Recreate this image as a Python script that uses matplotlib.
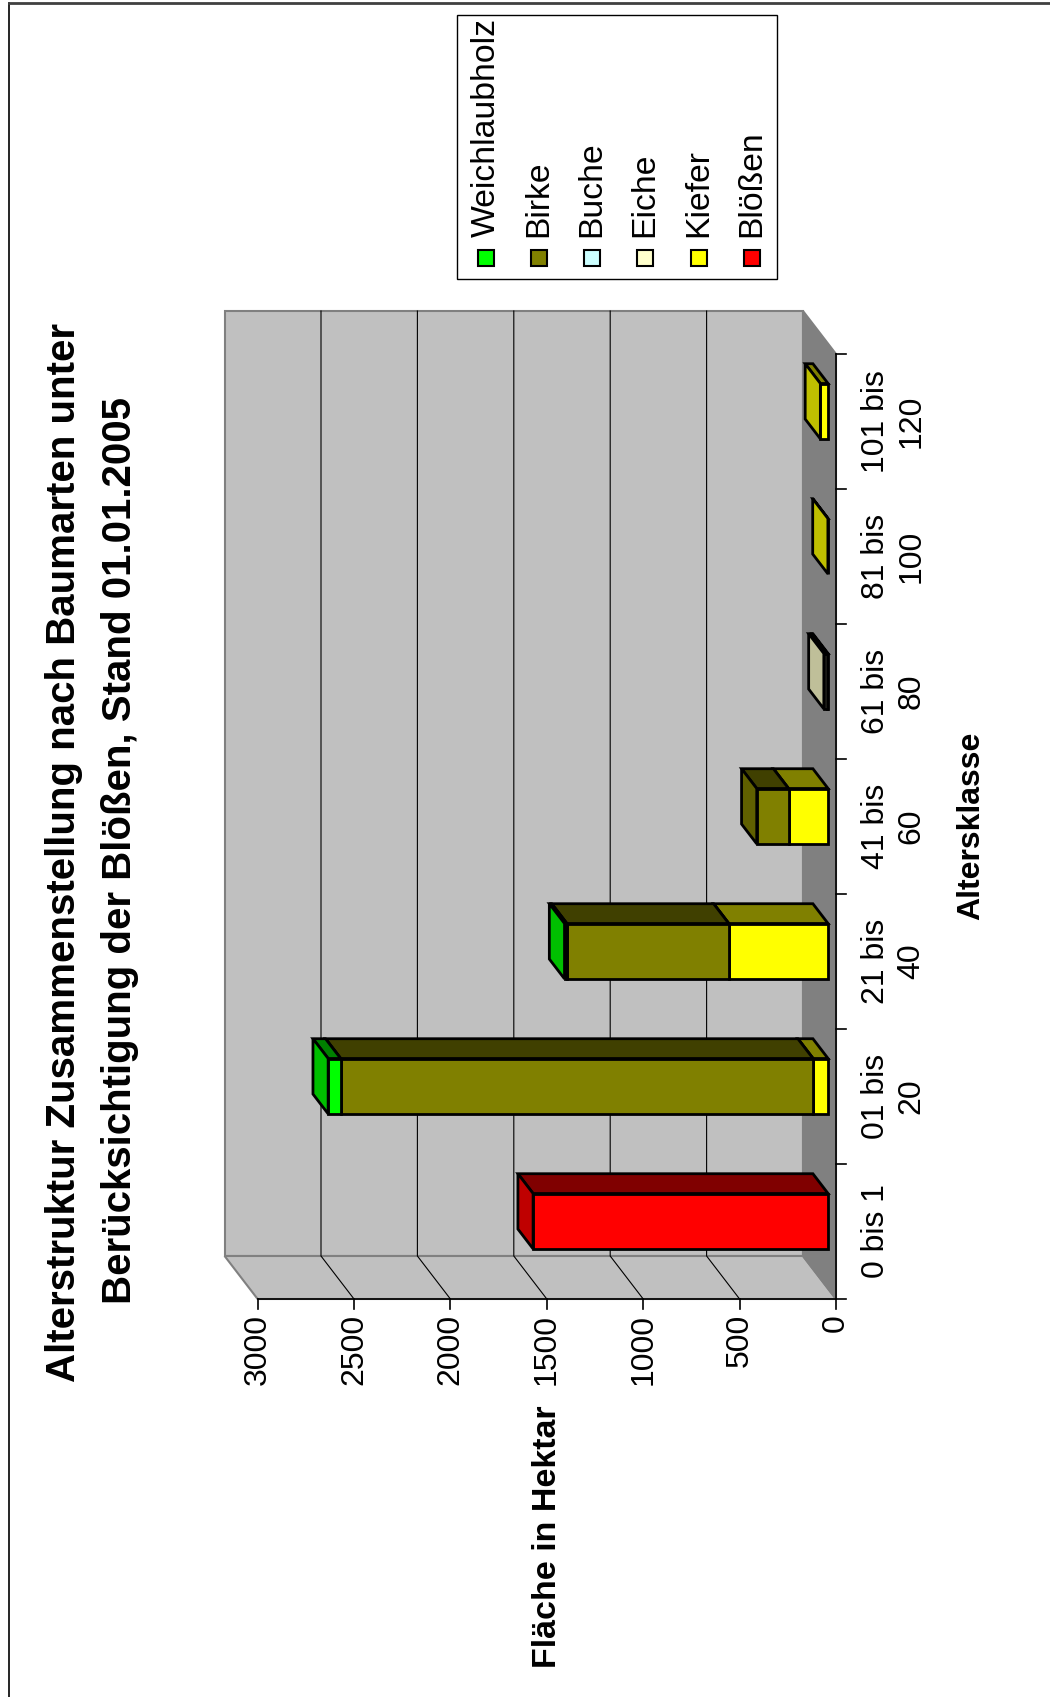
import matplotlib
matplotlib.use("Agg")
import matplotlib.pyplot as plt
from matplotlib.patches import Polygon, Rectangle
from matplotlib.colors import to_rgb

plt.rcParams['font.family'] = ['Liberation Sans', 'DejaVu Sans']

# ---------------- data ----------------
categories = ["0 bis 1", "01 bis\n20", "21 bis\n40", "41 bis\n60",
              "61 bis\n80", "81 bis\n100", "101 bis\n120"]
# stacking order, bottom -> top
stack_series = ["Blößen", "Kiefer", "Eiche", "Buche", "Birke", "Weichlaubholz"]
bloessen      = [1530,    0,   0,   0,  0, 0,  0]
kiefer        = [   0,   78, 515, 205,  4, 1, 40]
eiche         = [   0,    0,   0,   0, 18, 0,  0]
buche         = [   0,    0,   0,   0,  0, 0,  0]
birke         = [   0, 2450, 840, 165,  0, 0,  0]
weichlaubholz = [   0,   65,  12,   0,  0, 0,  0]
series_values = {"Blößen": bloessen, "Kiefer": kiefer, "Eiche": eiche,
                 "Buche": buche, "Birke": birke, "Weichlaubholz": weichlaubholz}
series_colors = {"Weichlaubholz": "#00FF00", "Birke": "#808000", "Buche": "#CCFFFF",
                 "Eiche": "#FFFFCC", "Kiefer": "#FFFF00", "Blößen": "#FF0000"}
legend_order = ["Weichlaubholz", "Birke", "Buche", "Eiche", "Kiefer", "Blößen"]
value_ticks = [0, 500, 1000, 1500, 2000, 2500, 3000]
title_lines = ["Alterstruktur Zusammenstellung nach Baumarten unter",
               "Berücksichtigung der Blößen, Stand 01.01.2005"]
x_title = "Altersklasse"
y_title = "Fläche in Hektar"

# ---------------- layout ----------------
W, H = 1050, 1697
fig = plt.figure(figsize=(W / 100, H / 100), dpi=100)
ax = fig.add_axes([0, 0, 1, 1])
ax.axis("off")
PX_PER_VAL = 0.1928     # pixels per hectare
PX_PER_CAT = 135.0      # pixels per category
X0, Y0 = 836.0, 1299.0  # pixel position of value 0 / category 0 (front plane)
ax.set_xlim(X0 / PX_PER_VAL, (X0 - W) / PX_PER_VAL)
ax.set_ylim(-(H - Y0) / PX_PER_CAT, (Y0) / PX_PER_CAT)
ncat = len(categories)
vmax = value_ticks[-1]

DV = 33 / PX_PER_VAL    # depth offset in value units
DC = 43 / PX_PER_CAT    # depth offset in category units


def proj(v, c, d):
    return (v + d * DV, c + d * DC)


def fig_xy(px, py):
    return px / W, 1 - py / H


def shade(col, f):
    r, g, b = to_rgb(col)
    return (r * f, g * f, b * f)


def poly(pts, fc, ec="black", lw=2.0, z=1):
    ax.add_patch(Polygon(pts, closed=True, facecolor=fc, edgecolor=ec,
                         linewidth=lw, zorder=z, joinstyle="miter"))


# walls
grid_c = "#808080"
poly([proj(0, 0, 1), proj(vmax, 0, 1), proj(vmax, ncat, 1), proj(0, ncat, 1)],
     "#C0C0C0", grid_c, 1.5, 1)
poly([proj(0, 0, 0), proj(vmax, 0, 0), proj(vmax, 0, 1), proj(0, 0, 1)],
     "#C0C0C0", grid_c, 1.5, 1)
poly([proj(0, 0, 0), proj(0, ncat, 0), proj(0, ncat, 1), proj(0, 0, 1)],
     "#808080", grid_c, 1.5, 1)
for v in value_ticks[1:-1]:
    a, b, c = proj(v, 0, 0), proj(v, 0, 1), proj(v, ncat, 1)
    ax.plot([a[0], b[0], c[0]], [a[1], b[1], c[1]], color="black", lw=0.8, zorder=2)

# axes lines and ticks
ax.plot([0, vmax], [0, 0], color="black", lw=1.2, zorder=3)
ax.plot([0, 0], [0, ncat], color="black", lw=1.2, zorder=3)
for v in value_ticks:
    ax.plot([v, v], [0, -10 / PX_PER_CAT], color="black", lw=1.2, zorder=3)
    ax.text(v, -15 / PX_PER_CAT, str(v), rotation=90, ha="center", va="top",
            fontsize=23)
for i in range(ncat + 1):
    ax.plot([0, -10 / PX_PER_VAL], [i, i], color="black", lw=1.2, zorder=3)
for i, lab in enumerate(categories):
    ax.text(-25 / PX_PER_VAL, i + 0.5, lab, rotation=90, ha="left", va="center",
            multialignment="center", fontsize=23, linespacing=1.25)

# bars
BAR_HALF = 0.205
D0, D1 = 0.24, 0.70
for i in range(ncat):
    c0, c1 = i + 0.5 - BAR_HALF, i + 0.5 + BAR_HALF
    base = 0.0
    for s in stack_series:
        val = series_values[s][i]
        if val <= 0:
            continue
        a, b = base, base + val
        col = series_colors[s]
        poly([proj(a, c1, D0), proj(b, c1, D0), proj(b, c1, D1), proj(a, c1, D1)],
             shade(col, 0.5), z=5)
        poly([proj(a, c0, D0), proj(b, c0, D0), proj(b, c1, D0), proj(a, c1, D0)],
             col, z=5)
        poly([proj(b, c0, D0), proj(b, c1, D0), proj(b, c1, D1), proj(b, c0, D1)],
             shade(col, 0.75), z=5)
        base = b

# titles
fig.text(*fig_xy(64, 853), title_lines[0], rotation=90, ha="center", va="center",
         fontsize=29, fontweight="bold")
fig.text(*fig_xy(120, 851), title_lines[1], rotation=90, ha="center", va="center",
         fontsize=29, fontweight="bold")
fig.text(*fig_xy(971, 826), x_title, rotation=90, ha="center", va="center",
         fontsize=23, fontweight="bold")
fig.text(*fig_xy(547, 1537), y_title, rotation=90, ha="center", va="center",
         fontsize=24.5, fontweight="bold")

# legend
lx0, ly0, lx1, ly1 = 457, 15, 777, 279
fig.patches.append(Rectangle(fig_xy(lx0, ly1), (lx1 - lx0) / W, (ly1 - ly0) / H,
                             transform=fig.transFigure, facecolor="white",
                             edgecolor="black", linewidth=1.0, zorder=0))
leg_x = [486, 539, 592, 645, 699, 752]
for xp, name in zip(leg_x, legend_order):
    sq = 16
    fig.patches.append(Rectangle(fig_xy(xp - sq / 2, 258 + sq / 2), sq / W, sq / H,
                                 transform=fig.transFigure,
                                 facecolor=series_colors[name], edgecolor="black",
                                 linewidth=1.5, zorder=1))
    fig.text(*fig_xy(xp, 237), name, rotation=90, ha="center", va="bottom",
             fontsize=24.3)

# outer border
fig.add_artist(plt.Line2D([9 / W, 9 / W], [0, 1 - 3 / H], color="black", lw=1.2,
                          transform=fig.transFigure))
fig.add_artist(plt.Line2D([9 / W, 1], [1 - 3 / H, 1 - 3 / H], color="#404040", lw=2,
                          transform=fig.transFigure))

fig.savefig("out.png", dpi=100)
